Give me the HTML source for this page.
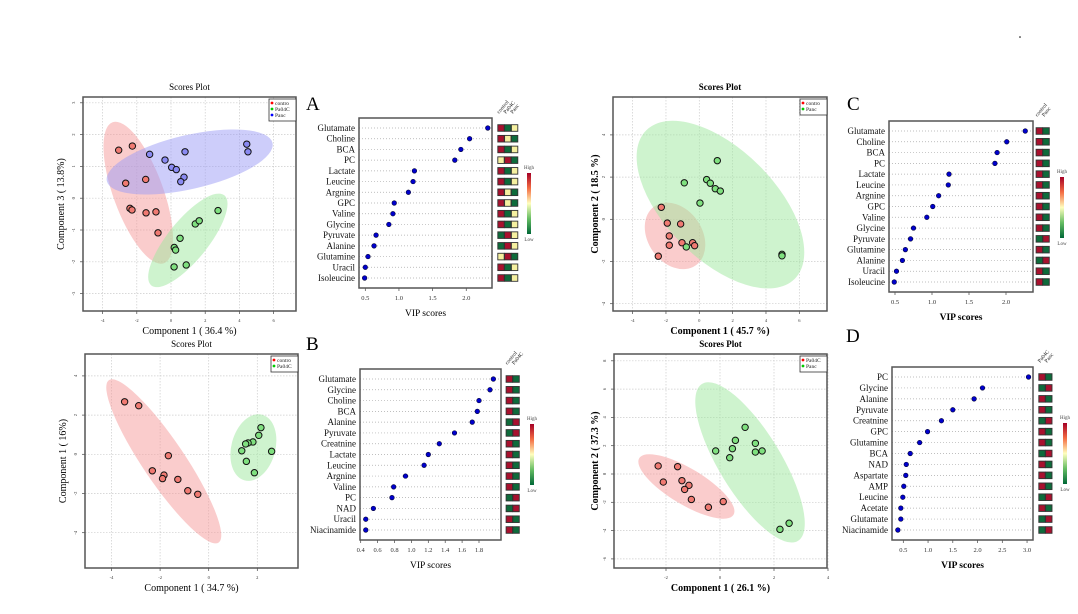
<!DOCTYPE html>
<html><head><meta charset="utf-8"><style>
html,body{margin:0;padding:0;background:#fff;}
svg{display:block;font-family:"Liberation Serif",serif;}
</style></head><body>
<svg id="fig" width="1078" height="614" viewBox="0 0 1078 614" xmlns="http://www.w3.org/2000/svg">
<defs>
<linearGradient id="cbar" x1="0" y1="0" x2="0" y2="1">
<stop offset="0" stop-color="#a50026"/><stop offset="0.25" stop-color="#f46d43"/><stop offset="0.5" stop-color="#ffffbf"/><stop offset="0.75" stop-color="#66bd63"/><stop offset="1" stop-color="#006837"/>
</linearGradient>
</defs>
<circle cx="1020" cy="37" r="0.8" fill="#000"/>
</svg>
<script>
// ---------- DATA ----------
const aControl=[[-3.06,1.51],[-2.26,1.64],[-2.65,0.47],[-1.48,0.59],[-2.4,-0.32],[-2.28,-0.37],[-1.46,-0.46],[-0.88,-0.43],[-0.76,-1.09]];
const aPanc=[[-1.25,1.38],[-0.35,1.2],[0.82,1.46],[0.04,0.97],[0.31,0.9],[0.76,0.66],[0.57,0.52],[4.43,1.7],[4.5,1.46]];
const aPa04C=[[0.53,-1.26],[0.19,-1.55],[0.27,-1.63],[1.42,-0.81],[1.65,-0.71],[2.75,-0.39],[0.18,-2.16],[0.89,-2.1]];
const aXTicks=[-4,-2,0,2,4,6], aYTicks=[3,2,1,0,-1,-2,-3];
const bControl=[[-3.46,2.68],[-2.88,2.48],[-1.66,-0.07],[-2.32,-0.84],[-1.84,-1.06],[-1.9,-1.24],[-1.27,-1.28],[-0.86,-1.86],[-0.45,-2.04]];
const bPa04C=[[2.15,1.36],[2.06,0.97],[1.82,0.63],[1.62,0.58],[1.52,0.53],[1.36,0.18],[2.59,0.15],[1.55,-0.36],[1.88,-0.94]];
const bXTicks=[-4,-2,0,2], bYTicks=[4,2,0,-2,-4];
const cControl=[[-2.28,0.57],[-1.92,-0.18],[-1.12,-0.22],[-1.8,-0.79],[-1.8,-1.23],[-1.04,-1.11],[-0.4,-1.11],[-0.28,-1.25],[-2.46,-1.75]];
const cPanc=[[1.08,2.78],[-0.9,1.73],[0.44,1.88],[0.66,1.71],[0.96,1.45],[1.26,1.34],[0.04,0.77],[-0.78,-1.31],[4.96,-1.66],[4.96,-1.73]];
const cXTicks=[-4,-2,0,2,4,6], cYTicks=[4,2,0,-2,-4];
const dPa04C=[[-2.29,0.57],[-1.57,0.52],[-2.1,-0.57],[-1.41,-0.47],[-1.15,-0.8],[-1.31,-1.09],[-1.06,-1.8],[-0.43,-2.35],[0.12,-1.95]];
const dPanc=[[0.93,3.3],[0.57,2.38],[1.31,2.17],[-0.16,1.63],[0.46,1.79],[1.31,1.55],[1.56,1.63],[0.36,1.15],[2.56,-3.48],[2.22,-3.91]];
const dXTicks=[-2,0,2,4], dYTicks=[8,6,4,2,0,-2,-4,-6];

const vipALabels=["Glutamate","Choline","BCA","PC","Lactate","Leucine","Argnine","GPC","Valine","Glycine","Pyruvate","Alanine","Glutamine","Uracil","Isoleucine"];
const vipAValues=[2.32,2.05,1.92,1.83,1.23,1.21,1.14,0.93,0.91,0.85,0.66,0.63,0.54,0.50,0.49];
const vipACells=["rgy","ryg","rgy","yrg","rgy","rgy","ryg","ryg","rgy","rgy","gry","gry","yrg","rgy","rgy"];
const vipATicks=[0.5,1.0,1.5,2.0];
const vipBLabels=["Glutamate","Glycine","Choline","BCA","Alanine","Pyruvate","Creatnine","Lactate","Leucine","Argnine","Valine","PC","NAD","Uracil","Niacinamide"];
const vipBValues=[1.97,1.93,1.80,1.78,1.72,1.51,1.33,1.20,1.15,0.93,0.79,0.77,0.55,0.46,0.46];
const vipBCells=["rg","rg","rg","rg","gr","gr","rg","rg","rg","rg","rg","gr","gr","rg","rg"];
const vipBTicks=[0.4,0.6,0.8,1.0,1.2,1.4,1.6,1.8];
const vipCLabels=["Glutamate","Choline","BCA","PC","Lactate","Leucine","Argnine","GPC","Valine","Glycine","Pyruvate","Glutamine","Alanine","Uracil","Isoleucine"];
const vipCValues=[2.26,2.01,1.88,1.85,1.23,1.22,1.09,1.01,0.93,0.75,0.71,0.64,0.60,0.52,0.49];
const vipCCells=["rg","rg","rg","rg","rg","rg","rg","rg","rg","rg","gr","rg","gr","rg","rg"];
const vipCTicks=[0.5,1.0,1.5,2.0];
const vipDLabels=["PC","Glycine","Alanine","Pyruvate","Creatnine","GPC","Glutamine","BCA","NAD","Aspartate","AMP","Leucine","Acetate","Glutamate","Niacinamide"];
const vipDValues=[3.03,2.10,1.93,1.50,1.27,0.99,0.83,0.64,0.56,0.55,0.51,0.49,0.45,0.45,0.39];
const vipDCells=["rg","gr","rg","rg","gr","rg","rg","gr","rg","rg","rg","gr","rg","gr","gr"];
const vipDTicks=[0.5,1.0,1.5,2.0,2.5,3.0];

// ---------- DRAWING ----------
const NS="http://www.w3.org/2000/svg";
const svg=document.getElementById('fig');
function mk(tag,attrs,parent,text){const e=document.createElementNS(NS,tag);for(const k in attrs)e.setAttribute(k,attrs[k]);if(text!==undefined)e.textContent=text;(parent||svg).appendChild(e);return e;}
const FILL={r:"#f07a72",g:"#7fe07f",b:"#8a8af2"};
const ELL={r:"#f59a9a",g:"#9ee89e",b:"#9c9cf5"};
const CELL={r:"#a8112e",g:"#0e6b3b",y:"#f5f0a0"};

function scatter(p){
  const g=mk('g',{});
  
  
  const xs=v=>p.x0+v*p.xu, ys=v=>p.y0-v*p.yu;
  const fw=p.bold?'bold':'normal';
  const t=mk('text',{x:(p.l+p.r)/2,y:p.t-7,'text-anchor':'middle','font-size':9,'font-weight':fw},g,'Scores Plot');
  
  p.xt.forEach(v=>{
    const gl=mk('line',{x1:xs(v),x2:xs(v),y1:p.t,y2:p.b,stroke:'#ccc','stroke-dasharray':'1.5,1.5','stroke-width':0.7},g);
    
    mk('line',{x1:xs(v),x2:xs(v),y1:p.b,y2:p.b+3,stroke:'#444','stroke-width':0.7},g);
    const tl=mk('text',{x:xs(v),y:p.b+11,'text-anchor':'middle','font-size':4.5,fill:'#333'},g,String(v));
    
  });
  p.yt.forEach(v=>{
    const gl=mk('line',{x1:p.l,x2:p.r,y1:ys(v),y2:ys(v),stroke:'#ccc','stroke-dasharray':'1.5,1.5','stroke-width':0.7},g);
    
    mk('line',{x1:p.l-3,x2:p.l,y1:ys(v),y2:ys(v),stroke:'#444','stroke-width':0.7},g);
    const tl=mk('text',{x:p.l-8,y:ys(v),'text-anchor':'middle','font-size':4.5,fill:'#333',transform:`rotate(-90 ${p.l-8} ${ys(v)})`},g,String(v));
    
  });
  p.groups.forEach(gr=>{
    const mx=gr.pts.reduce((s,q)=>s+q[0],0)/gr.pts.length, my=gr.pts.reduce((s,q)=>s+q[1],0)/gr.pts.length;
    const e=mk('ellipse',{cx:xs(mx),cy:ys(my),rx:gr.rx,ry:gr.ry,fill:ELL[gr.c],'fill-opacity':0.5,transform:`rotate(${gr.rot} ${xs(mx)} ${ys(my)})`},g);
    
  });
  p.groups.forEach(gr=>{
    gr.pts.forEach(q=>{
      const c=mk('circle',{cx:xs(q[0]),cy:ys(q[1]),r:3.2,fill:FILL[gr.c],stroke:'#111','stroke-width':1},g);
      
    });
  });
  const fr=mk('rect',{x:p.l,y:p.t,width:p.r-p.l,height:p.b-p.t,fill:'none',stroke:'#555','stroke-width':1.5},g);
  
  const lg=mk('g',{},g);
  
  const lh=p.groups.length*6+4;
  mk('rect',{x:p.r-27,y:p.t+2,width:27,height:lh,fill:'#fff',stroke:'#333','stroke-width':0.8},lg);
  p.groups.forEach((gr,i)=>{
    mk('circle',{cx:p.r-24,cy:p.t+6+i*6,r:1.4,fill:gr.c==='r'?'#f00':gr.c==='g'?'#0c0':'#00f'},lg);
    const lt=mk('text',{x:p.r-21,y:p.t+7.8+i*6,'font-size':5.5,fill:'#222'},lg,gr.label);
    
  });
  const xl=mk('text',{x:(p.l+p.r)/2,y:p.b+23,'text-anchor':'middle','font-size':10,'font-weight':fw},g,p.xlabel);
  
  const yl=mk('text',{x:p.ylx,y:(p.t+p.b)/2,'text-anchor':'middle','font-size':10,'font-weight':fw,transform:`rotate(-90 ${p.ylx} ${(p.t+p.b)/2})`},g,p.ylabel);
  
}

function vip(p){
  const g=mk('g',{});
  
  
  const xs=v=>p.x0+(v-p.v0)*p.xu;
  const n=p.labels.length, step=(p.b-p.t-20)/(n-1), ry=i=>p.t+10+i*step;
  const fw=p.bold?'bold':'normal';
  const L=mk('text',{x:p.lx,y:p.ly,'font-size':19},g,p.letter);
  
  p.labels.forEach((lab,i)=>{
    mk('line',{x1:p.l,x2:p.r,y1:ry(i),y2:ry(i),stroke:'#aaa','stroke-dasharray':'1,2','stroke-width':0.7},g);
    const t=mk('text',{x:p.l-4,y:ry(i)+3,'text-anchor':'end','font-size':9,fill:'#111'},g,lab);
    
    const c=mk('circle',{cx:xs(p.values[i]),cy:ry(i),r:2.3,fill:'#0000cc',stroke:'#000033','stroke-width':0.6},g);
    
    p.cells[i].split('').forEach((k,j)=>{
      const r=mk('rect',{x:p.cx+j*6.8-3.2,y:ry(i)-3.3,width:6.4,height:6.6,fill:CELL[k],stroke:'#333','stroke-width':0.9},g);
      
    });
  });
  p.cols.forEach((cn,j)=>{
    const x=p.cx+j*6.8-2, y=p.t-4;
    const t=mk('text',{x:x,y:y,'font-size':5.5,fill:'#222',transform:`rotate(-50 ${x} ${y})`},g,cn);
    
  });
  p.ticks.forEach(v=>{
    mk('line',{x1:xs(v),x2:xs(v),y1:p.b,y2:p.b+3,stroke:'#444','stroke-width':0.7},g);
    const t=mk('text',{x:xs(v),y:p.b+12,'text-anchor':'middle','font-size':6.5,fill:'#333'},g,v.toFixed(1));
    
  });
  const fr=mk('rect',{x:p.l,y:p.t,width:p.r-p.l,height:p.b-p.t,fill:'none',stroke:'#555','stroke-width':1.5},g);
  
  const xl=mk('text',{x:(p.l+p.r)/2,y:p.b+28,'text-anchor':'middle','font-size':9.5,'font-weight':fw},g,'VIP scores');
  
  const cb=mk('rect',{x:p.cbx,y:p.cby,width:4,height:61,fill:'url(#cbar)'},g);
  
  const h=mk('text',{x:p.cbx+2,y:p.cby-4,'text-anchor':'middle','font-size':5,fill:'#444'},g,'High');
  
  const lo=mk('text',{x:p.cbx+2,y:p.cby+68,'text-anchor':'middle','font-size':5,fill:'#444'},g,'Low');
  
}

scatter({name:'scores-plot-a',l:83,r:296,t:97,b:311,x0:171,xu:17.1,y0:198.2,yu:31.8,xt:aXTicks,yt:aYTicks,ylx:64,
  xlabel:'Component 1 ( 36.4 %)',ylabel:'Component 3 ( 13.8%)',bold:false,
  groups:[{label:'contro',pts:aControl,c:'r',rx:75,ry:25,rot:70},{label:'Pa04C',pts:aPa04C,c:'g',rx:58,ry:20,rot:-51},{label:'Panc',pts:aPanc,c:'b',rx:85,ry:27,rot:-13}]});
scatter({name:'scores-plot-b',l:85,r:298,t:354,b:568,x0:208.7,xu:24.3,y0:454.3,yu:19.6,xt:bXTicks,yt:bYTicks,ylx:66,
  xlabel:'Component 1 ( 34.7 %)',ylabel:'Component 1 ( 16%)',bold:false,
  groups:[{label:'contro',pts:bControl,c:'r',rx:98,ry:21,rot:56},{label:'Pa04C',pts:bPa04C,c:'g',rx:34,ry:22,rot:-75}]});
scatter({name:'scores-plot-c',l:613,r:827,t:97,b:311,x0:699.3,xu:16.67,y0:219.3,yu:21.1,xt:cXTicks,yt:cYTicks,ylx:598,
  xlabel:'Component 1 ( 45.7 %)',ylabel:'Component 2 ( 18.5 %)',bold:true,
  groups:[{label:'contro',pts:cControl,c:'r',rx:36,ry:27,rot:55},{label:'Panc',pts:cPanc,c:'g',rx:105,ry:55,rot:45}]});
scatter({name:'scores-plot-d',l:614,r:827,t:354,b:568,x0:720,xu:27,y0:474,yu:14.15,xt:dXTicks,yt:dYTicks,ylx:598,
  xlabel:'Component 1 ( 26.1 %)',ylabel:'Component 2 ( 37.3 %)',bold:true,
  groups:[{label:'Pa04C',pts:dPa04C,c:'r',rx:55,ry:18,rot:31},{label:'Panc',pts:dPanc,c:'g',rx:92,ry:31,rot:58.6}]});

vip({name:'vip-plot-a',letter:'A',lx:306,ly:110,l:359,r:492,t:118,b:288,x0:365.3,v0:0.5,xu:67.3,labels:vipALabels,values:vipAValues,cells:vipACells,ticks:vipATicks,cx:501,cols:['control','Pa04C','Panc'],cbx:527,cby:173,bold:false});
vip({name:'vip-plot-b',letter:'B',lx:306,ly:350,l:360,r:501,t:369,b:540,x0:360.7,v0:0.4,xu:84.5,labels:vipBLabels,values:vipBValues,cells:vipBCells,ticks:vipBTicks,cx:509.3,cols:['control','Pa04C'],cbx:530,cby:424,bold:false});
vip({name:'vip-plot-c',letter:'C',lx:847,ly:110,l:889,r:1033,t:121,b:292,x0:895,v0:0.5,xu:74,labels:vipCLabels,values:vipCValues,cells:vipCCells,ticks:vipCTicks,cx:1039.3,cols:['control','Panc'],cbx:1060,cby:177,bold:true});
vip({name:'vip-plot-d',letter:'D',lx:846,ly:342,l:892,r:1033,t:367,b:540,x0:903.3,v0:0.5,xu:49.5,labels:vipDLabels,values:vipDValues,cells:vipDCells,ticks:vipDTicks,cx:1042,cols:['Pa04C','Panc'],cbx:1063,cby:423,bold:true});
</script>
</body></html>
